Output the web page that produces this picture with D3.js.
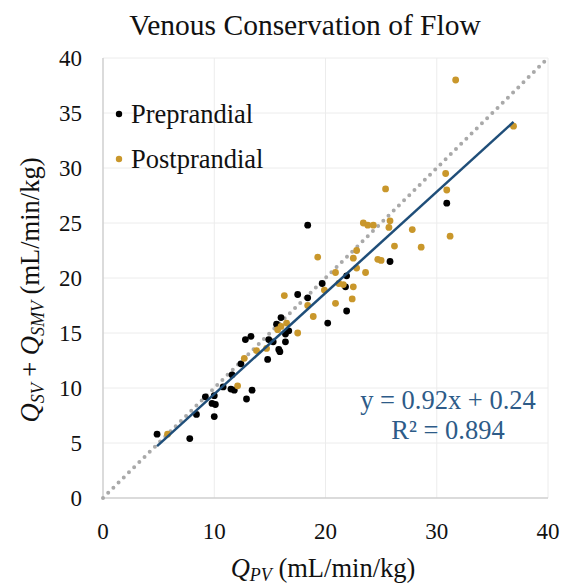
<!DOCTYPE html>
<html>
<head>
<meta charset="utf-8">
<script src="https://cdn.jsdelivr.net/npm/d3@7"></script>
<style>
  body { margin: 0; background: #fff; }
  text { font-family: "Liberation Serif", "Times New Roman", serif; }
</style>
</head>
<body>
<div id="chart"></div>
<script>
// preprandial points [Q_PV, Q_SV + Q_SMV]
var preX = [4.86, 7.8, 8.4, 9.2, 10.0, 9.8, 10.1, 10.0, 10.8, 11.5, 11.8, 11.6, 12.4, 12.9, 13.4, 12.8, 13.3, 14.8, 14.9, 15.3,
            15.8, 15.9, 15.6, 16.0, 16.4, 16.4, 16.7, 17.5, 18.4, 18.4, 19.7, 20.2, 21.9, 21.8, 21.9, 25.8, 30.9];
var preY = [5.8, 5.4, 7.6, 9.2, 9.3, 8.6, 8.5, 7.4, 10.1, 9.9, 9.8, 11.2, 12.2, 9.0, 9.8, 14.4, 14.7, 12.6, 14.4, 14.2,
            13.5, 13.3, 15.8, 16.4, 14.2, 14.9, 15.2, 18.5, 24.8, 18.2, 19.5, 15.9, 20.2, 19.2, 17.0, 21.5, 26.8];

var postX = [5.8, 12.1, 12.7, 13.8, 14.7, 15.7, 16.0, 16.3, 16.5, 17.5, 18.4, 18.9, 19.3, 19.9, 20.9, 20.9, 21.2, 21.6, 22.5, 22.4,
             22.5, 22.8, 22.8, 23.4, 23.8, 24.3, 23.6, 24.7, 25.0, 25.4, 25.7, 25.8, 26.2, 27.8, 28.6, 30.8, 30.9, 31.2, 31.7, 36.9];
var postY = [5.8, 10.2, 12.7, 13.4, 13.6, 15.3, 15.6, 18.4, 15.9, 15.0, 17.5, 16.5, 21.9, 18.9, 20.5, 17.7, 19.5, 19.4, 19.2, 18.1,
             21.8, 20.9, 22.5, 25.0, 24.8, 24.8, 20.5, 21.7, 21.6, 28.1, 24.6, 25.2, 22.9, 24.4, 22.8, 29.5, 28.0, 23.8, 38.0, 33.8];

var xTicks = [0, 10, 20, 30, 40];
var yTicks = [0, 5, 10, 15, 20, 25, 30, 35, 40];

// linear fit shown on the chart
var slope = 0.92, intercept = 0.24;
var fitRange = [4.86, 36.9];
var equation = "y = 0.92x + 0.24";
var rSquared = "R\u00b2 = 0.894";

var width = 564, height = 587;
var margin = {left: 103, right: 16, top: 58, bottom: 89};

var svg = d3.select("#chart").append("svg")
    .attr("width", width)
    .attr("height", height);

var x = d3.scaleLinear().domain([0, 40]).range([margin.left, width - margin.right]);
var y = d3.scaleLinear().domain([0, 40]).range([height - margin.bottom, margin.top]);

// gridlines
svg.append("g").selectAll("line").data(yTicks.slice(1)).join("line")
    .attr("x1", x(0)).attr("x2", x(40))
    .attr("y1", d => y(d)).attr("y2", d => y(d))
    .attr("stroke", "#ececec").attr("stroke-width", 1);
svg.append("g").selectAll("line").data(xTicks.slice(1)).join("line")
    .attr("y1", y(0)).attr("y2", y(40))
    .attr("x1", d => x(d)).attr("x2", d => x(d))
    .attr("stroke", "#ececec").attr("stroke-width", 1);

// axis lines
svg.append("line").attr("x1", x(0)).attr("x2", x(0)).attr("y1", y(0)).attr("y2", y(40))
    .attr("stroke", "#cfcfcf").attr("stroke-width", 1.5);
svg.append("line").attr("x1", x(0)).attr("x2", x(40)).attr("y1", y(0)).attr("y2", y(0))
    .attr("stroke", "#cfcfcf").attr("stroke-width", 1.5);

// tick labels
svg.append("g").selectAll("text").data(xTicks).join("text")
    .attr("x", d => x(d)).attr("y", y(0) + 41)
    .attr("text-anchor", "middle")
    .attr("font-size", 23).attr("fill", "#111")
    .text(d => d);
svg.append("g").selectAll("text").data(yTicks).join("text")
    .attr("x", x(0) - 21).attr("y", d => y(d) + 8)
    .attr("text-anchor", "end")
    .attr("font-size", 23).attr("fill", "#111")
    .text(d => d);

// identity line y = x
svg.append("line")
    .attr("x1", x(0)).attr("y1", y(0)).attr("x2", x(40)).attr("y2", y(40))
    .attr("stroke", "#a9a9a9").attr("stroke-width", 4)
    .attr("stroke-linecap", "round")
    .attr("stroke-dasharray", "0,7.3");

var pre = preX.map((d, i) => [d, preY[i]]);
var post = postX.map((d, i) => [d, postY[i]]);

svg.append("g").selectAll("circle").data(pre).join("circle")
    .attr("cx", d => x(d[0])).attr("cy", d => y(d[1]))
    .attr("r", 3.4).attr("fill", "#000");
svg.append("g").selectAll("circle").data(post).join("circle")
    .attr("cx", d => x(d[0])).attr("cy", d => y(d[1]))
    .attr("r", 3.4).attr("fill", "#c9972b");

// trend line
svg.append("line")
    .attr("x1", x(fitRange[0])).attr("y1", y(slope * fitRange[0] + intercept))
    .attr("x2", x(fitRange[1])).attr("y2", y(slope * fitRange[1] + intercept))
    .attr("stroke", "#1f4e79").attr("stroke-width", 2.5);

// equation
svg.append("text").attr("x", 448).attr("y", 409)
    .attr("text-anchor", "middle").attr("font-size", 26.5).attr("fill", "#2d5b88")
    .text(equation);
svg.append("text").attr("x", 448).attr("y", 439)
    .attr("text-anchor", "middle").attr("font-size", 26.5).attr("fill", "#2d5b88")
    .text(rSquared);

// legend
var legend = [["Preprandial", "#000"], ["Postprandial", "#c9972b"]];
legend.forEach(function(l, i) {
    svg.append("circle").attr("cx", 119).attr("cy", 114 + i * 45).attr("r", 3.2).attr("fill", l[1]);
    svg.append("text").attr("x", 131).attr("y", 123 + i * 45)
        .attr("font-size", 26.5).attr("fill", "#111").text(l[0]);
});

// title
svg.append("text").attr("x", 305).attr("y", 35)
    .attr("text-anchor", "middle").attr("font-size", 29.5).attr("fill", "#111")
    .text("Venous Conservation of Flow");

// x title
var xt = svg.append("text").attr("x", 323).attr("y", 577)
    .attr("text-anchor", "middle").attr("font-size", 26.5).attr("fill", "#111");
xt.append("tspan").attr("font-style", "italic").text("Q");
xt.append("tspan").attr("font-style", "italic").attr("font-size", 18).attr("dy", 4).text("PV");
xt.append("tspan").attr("dy", -4).text(" (mL/min/kg)");

// y title
var yt = svg.append("text").attr("transform", "translate(39,290) rotate(-90)")
    .attr("text-anchor", "middle").attr("font-size", 26.5).attr("fill", "#111");
yt.append("tspan").attr("font-style", "italic").text("Q");
yt.append("tspan").attr("font-style", "italic").attr("font-size", 18).attr("dy", 5).text("SV");
yt.append("tspan").attr("dy", -5).text(" + ");
yt.append("tspan").attr("font-style", "italic").text("Q");
yt.append("tspan").attr("font-style", "italic").attr("font-size", 18).attr("dy", 5).text("SMV");
yt.append("tspan").attr("dy", -5).text("  (mL/min/kg)");
</script>
</body>
</html>
